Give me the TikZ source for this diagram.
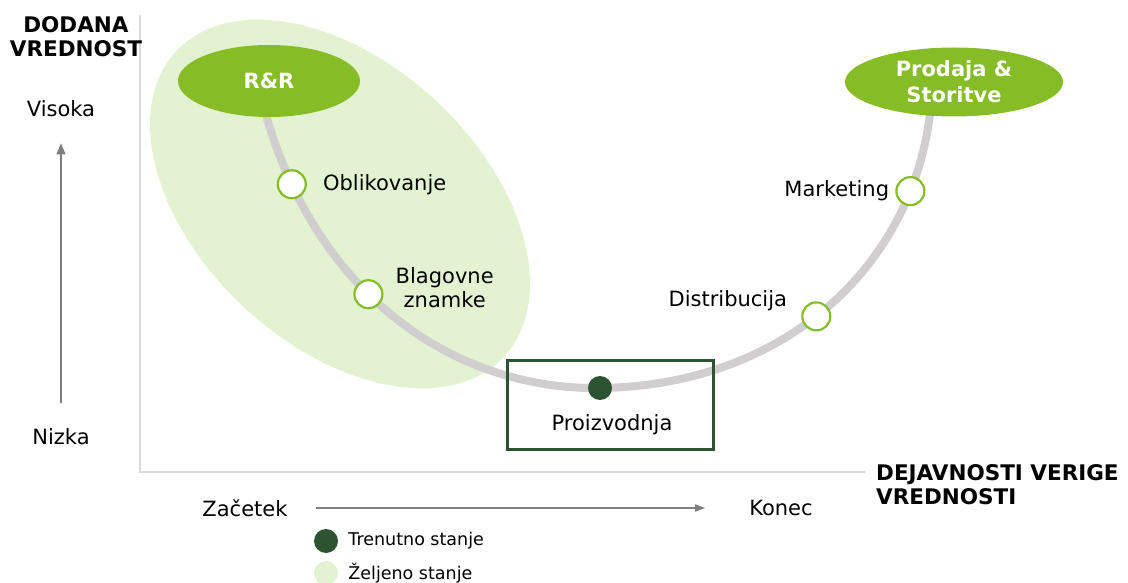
\documentclass[tikz,border=0pt]{standalone}
\usepackage{fontspec}
\setmainfont{DejaVu Sans}
\usetikzlibrary{positioning,arrows.meta,shapes.geometric}
\definecolor{dgreen}{HTML}{86BC25}
\definecolor{darkgreen}{HTML}{2C5433}
\definecolor{palegreen}{HTML}{E3F3D1}
\definecolor{chaingray}{HTML}{D0CECE}
\definecolor{axisgray}{HTML}{D9D9D9}
\definecolor{arrowgray}{HTML}{7F7F7F}

\begin{document}
\begin{tikzpicture}[x=1pt,y=1pt,
  txt/.style={font=\fontsize{21}{24}\selectfont, text=black, inner sep=2pt},
  hdr/.style={font=\fontsize{21.5}{24}\selectfont\bfseries, inner sep=0pt},
  bubble/.style={ellipse, fill=dgreen, text=white, font=\fontsize{21}{26}\selectfont\bfseries, align=center, inner sep=0pt},
  opendot/.style={circle, draw=dgreen, line width=2.2pt, fill=white, minimum size=28pt, inner sep=0pt},
  fulldot/.style={circle, fill=darkgreen, minimum size=24pt, inner sep=0pt},
  legtxt/.style={font=\fontsize{17.5}{20}\selectfont, inner sep=2pt}]
  \useasboundingbox (0,0) rectangle (1128,582);
  % zeljeno stanje
  \fill[palegreen, rotate around={-43:(340,378)}] (340,378) ellipse [x radius=224, y radius=141];
  % osi
  \draw[axisgray, line width=1.5pt] (140,567) -- (140,110) -- (865,110);
  \node[hdr, align=center] (yname) at (76,545) {DODANA\\VREDNOST};
  \node[hdr, align=left, anchor=west] (xname) at (876,97.5) {DEJAVNOSTI VERIGE\\VREDNOSTI};
  \node[txt] (high) at (61,473) {Visoka};
  \node[txt] (low) at (61,145) {Nizka};
  \draw[arrowgray, line width=1.3pt, -{Triangle[length=11pt,width=9pt]}, shorten <=24pt, shorten >=24pt] (low) -- (high);
  \node[txt] (start) at (245,74) {Začetek};
  \node[txt] (end) at (781,74) {Konec};
  \draw[arrowgray, line width=1.3pt, -{Triangle[length=10pt,width=7pt]}, shorten <=26pt, shorten >=42pt] (start) -- (end);
  % veriga
  \coordinate (rrc) at (262,482);
  \coordinate (prc) at (600,194);
  \coordinate (psc) at (931,477);
  \draw[chaingray, line width=8pt] (rrc) .. controls (310,292) and (450,192) .. (prc)
     node[opendot, pos=0.16] (oblik) {} node[opendot, pos=0.43] (blag) {}
     .. controls (780,196) and (915,312) .. (psc)
     node[opendot, pos=0.47] (distr) {} node[opendot, pos=0.815] (mark) {};
  \node[bubble, minimum width=182pt, minimum height=72pt] (rr) at (269,501) {R\&R};
  \node[bubble, minimum width=218pt, minimum height=69pt] (ps) at (954,500) {Prodaja \&\\Storitve};
  \node[draw=darkgreen, line width=3pt, minimum width=206pt, minimum height=89pt] (pbox) at (610,177.5) {};
  \node[fulldot] (pdot) at (prc) {};
  \node[txt] (ptxt) at (612,157) {Proizvodnja};
  \node[txt, right=14pt of oblik] (oblikt) {Oblikovanje};
  \node[txt, align=center, right=10pt of blag, yshift=7pt] (blagt) {Blagovne\\znamke};
  \node[txt, left=4pt of mark] (markt) {Marketing};
  \node[txt, left=12pt of distr, yshift=16pt] (distrt) {Distribucija};
  % legenda
  \node[fulldot] (curdot) at (326,41) {};
  \node[legtxt, right=8pt of curdot] (curtxt) {Trenutno stanje};
  \node[fulldot, fill=palegreen] (goaldot) at (326,9) {};
  \node[legtxt, right=8pt of goaldot] (goaltxt) {Željeno stanje};
\end{tikzpicture}
\end{document}
